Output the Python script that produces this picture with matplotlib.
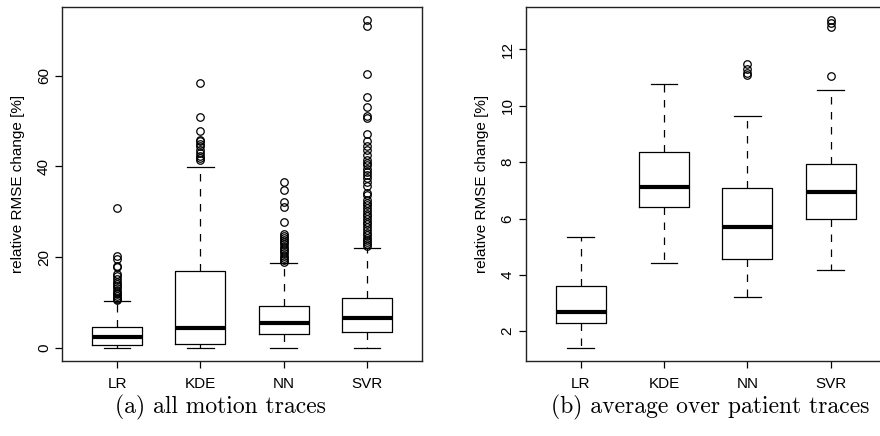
import matplotlib
matplotlib.use('Agg')
import matplotlib.pyplot as plt

plt.rcParams['font.family'] = ['Liberation Sans', 'DejaVu Sans']

categories = ['LR', 'KDE', 'NN', 'SVR']
ylabel = 'relative RMSE change [%]'
captions = ['(a) all motion traces', '(b) average over patient traces']

# ---- panel (a): all motion traces ----
a_whislo = [0.0, 0.0, 0.0, 0.0]
a_q1 = [0.57, 0.8, 3.0, 3.59]
a_med = [2.34, 4.4, 5.5, 6.5]
a_q3 = [4.53, 16.94, 9.3, 11.0]
a_whishi = [10.26, 39.96, 18.7, 22.0]
a_fliers_LR = [30.8, 20.2, 19.5, 18.0, 17.8, 16.3, 15.8, 15.2, 14.6, 14.0, 13.6,
               13.1, 12.6, 12.2, 11.8, 11.4, 11.0, 10.7, 10.5]
a_fliers_KDE = [58.3, 50.9, 47.9, 45.9, 45.5, 45.0, 44.4, 43.6, 43.0, 42.3, 41.8, 41.4]
a_fliers_NN = [36.6, 34.9, 32.2, 31.0, 27.8, 25.0, 24.6, 24.2, 23.8, 23.3, 22.8,
               22.3, 21.8, 21.3, 20.8, 20.3, 19.8, 19.3, 18.9]
a_fliers_SVR = [72.3, 71.0, 60.4, 55.3, 53.1, 51.0, 50.6, 47.2, 45.6, 44.4, 43.5,
                42.5, 41.4, 40.8, 40.2, 39.5, 38.8, 38.0, 37.4, 36.6, 35.7, 34.2,
                33.8, 32.7, 32.0, 31.4, 30.8, 30.2, 29.6, 29.0, 28.4, 27.8, 27.2,
                26.6, 26.0, 25.4, 24.8, 24.3, 23.8, 23.3, 22.8, 22.4]
a_yticks = [0, 20, 40, 60]

# ---- panel (b): average over patient traces ----
b_whislo = [1.41, 4.43, 3.23, 4.18]
b_q1 = [2.29, 6.41, 4.57, 6.0]
b_med = [2.67, 7.11, 5.71, 6.95]
b_q3 = [3.62, 8.37, 7.09, 7.94]
b_whishi = [5.36, 10.77, 9.62, 10.57]
b_fliers_LR = []
b_fliers_KDE = []
b_fliers_NN = [11.49, 11.32, 11.17, 11.08]
b_fliers_SVR = [13.05, 12.94, 12.8, 11.04]
b_yticks = [2, 4, 6, 8, 10, 12]


def make_stats(lo, q1, med, q3, hi, fliers):
    return [dict(label=c, whislo=lo[i], q1=q1[i], med=med[i], q3=q3[i],
                 whishi=hi[i], fliers=fliers[i]) for i, c in enumerate(categories)]


W, H = 880, 436
fig = plt.figure(figsize=(W / 100, H / 100), dpi=100)

panels = [
    (62, make_stats(a_whislo, a_q1, a_med, a_q3, a_whishi,
                    [a_fliers_LR, a_fliers_KDE, a_fliers_NN, a_fliers_SVR]), a_yticks),
    (525.7, make_stats(b_whislo, b_q1, b_med, b_q3, b_whishi,
                       [b_fliers_LR, b_fliers_KDE, b_fliers_NN, b_fliers_SVR]), b_yticks),
]

cap_x = [220, 710]
for k, (left_px, stats, yticks) in enumerate(panels):
    ax = fig.add_axes([left_px / W, (H - 361) / H, 360 / W, 354.3 / H])
    ax.bxp(stats, positions=[1, 2, 3, 4], widths=0.6, capwidths=0.32,
           boxprops=dict(color='black', linewidth=0.9),
           whiskerprops=dict(color='black', linewidth=0.9, linestyle=(0, (6, 6))),
           capprops=dict(color='black', linewidth=0.9),
           medianprops=dict(color='black', linewidth=3.0, solid_capstyle='butt'),
           flierprops=dict(marker='o', markerfacecolor='none', markeredgecolor='black',
                           markersize=5.4, markeredgewidth=0.9, linestyle='none'))
    allv = []
    for s in stats:
        allv += [s['whislo'], s['whishi']] + list(s['fliers'])
    lo, hi = min(allv), max(allv)
    pad = 0.04 * (hi - lo)
    ax.set_ylim(lo - pad, hi + pad)
    ax.set_xlim(0.34, 4.66)
    ax.set_yticks(yticks)
    ax.set_yticklabels([str(t) for t in yticks], rotation=90, va='center')
    ax.set_xticks([1, 2, 3, 4])
    ax.set_xticklabels(categories)
    ax.tick_params(axis='both', direction='out', length=5, width=0.9, labelsize=11,
                   color='black')
    ax.tick_params(axis='x', pad=6.5)
    ax.tick_params(axis='y', pad=3.0)
    for sp in ax.spines.values():
        sp.set_linewidth(1.0)
        sp.set_color('#222222')
    ax.set_ylabel(ylabel, fontsize=11)
    ax.yaxis.set_label_coords((18.3 - left_px) / 360 if k == 0 else (481.7 - left_px) / 360, 0.5)
    ax.yaxis.label.set_va('center')
    fig.text(cap_x[k] / W, 1 - 407 / H, captions[k], ha='center', va='center',
             fontsize=17, family='cmr10')

fig.savefig('out.png', dpi=100)
